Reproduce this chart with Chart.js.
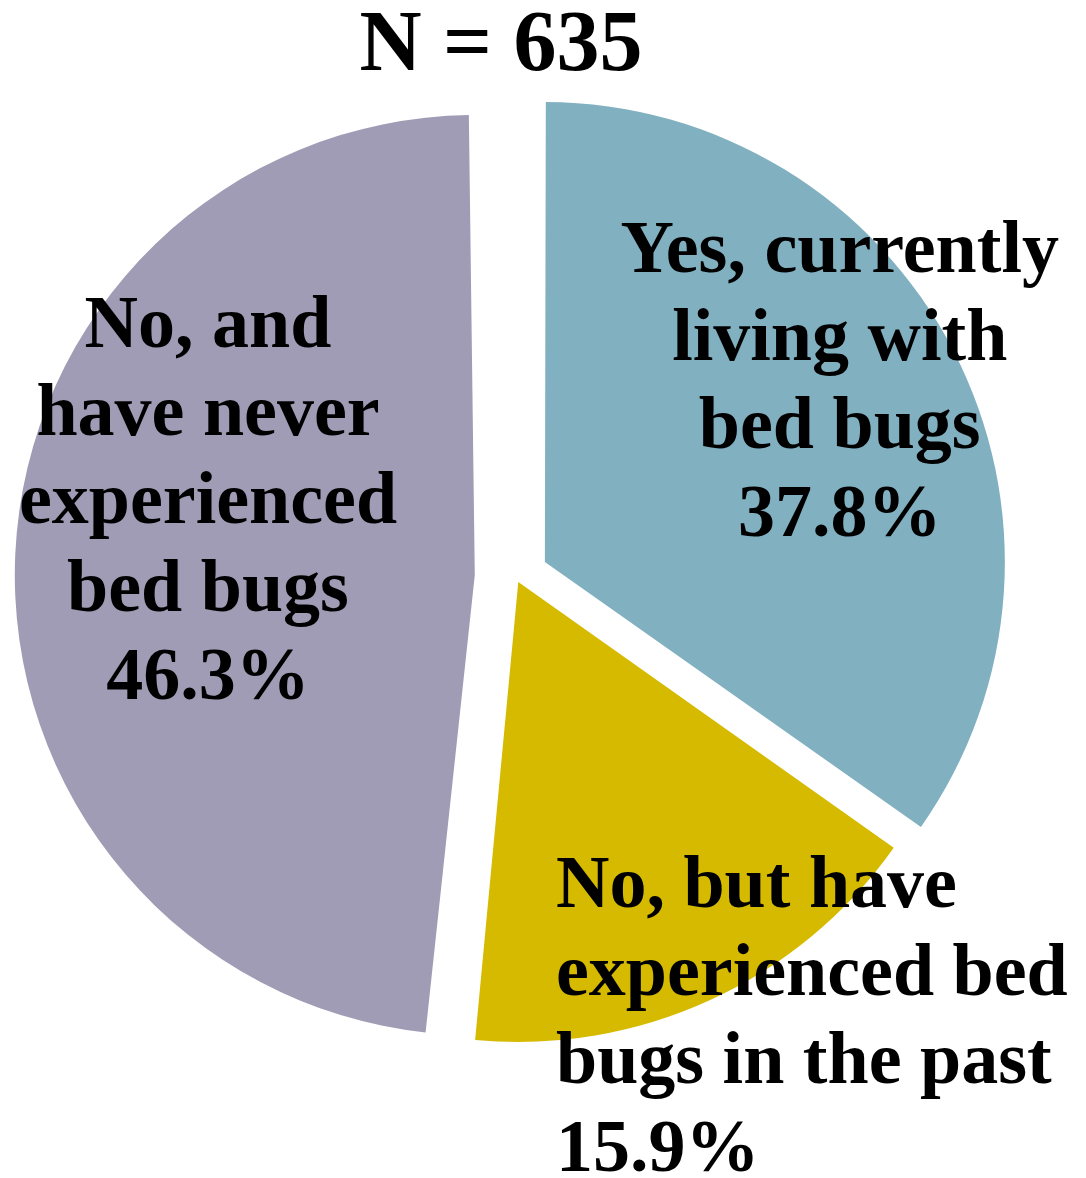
<!DOCTYPE html>
<html>
<head>
<meta charset="utf-8">
<script src="https://cdn.jsdelivr.net/npm/chart.js@4.4.1/dist/chart.umd.min.js"></script>
<style>
  html, body { margin: 0; padding: 0; background: #fff; }
  #wrap { width: 1086px; height: 1178px; }
</style>
</head>
<body>
<div id="wrap"><canvas id="pie"></canvas></div>
<script>
// slice sizes as drawn in the picture; the printed percentages stay in the labels
const categories = ['Yes, currently living with bed bugs', 'No, but have experienced bed bugs in the past', 'No, and have never experienced bed bugs'];
const shares = [34.8, 16.7, 48.5];
const percentLabels = ['37.8%', '15.9%', '46.3%'];
const labelLines = [
  ['Yes, currently', 'living with', 'bed bugs'],
  ['No, but have', 'experienced bed', 'bugs in the past'],
  ['No, and', 'have never', 'experienced', 'bed bugs'],
];
const sliceColors = ['#81B0C0', '#D5BA00', '#A09CB5'];
const explode = [130, 22, 165];
const titleText = 'N = 635';

// where each label's first baseline sits, relative to the slice tip (in radii)
const labelAnchor = [[0.641, -0.630], [0.082, 0.707], [-0.580, -0.496]];
const labelAlign = ['center', 'left', 'center'];

// chart.js grows the radius of exploded slices, undo that so all slices are equal
const fixRadius = {
  id: 'fixRadius',
  beforeDatasetsDraw(chart) {
    const meta = chart.getDatasetMeta(0);
    const base = meta.controller.outerRadius;
    meta.data.forEach((arc) => {
      const off = (arc.options.offset || 0) / 4;
      const circ = arc.endAngle - arc.startAngle;
      arc.outerRadius = base - off * (1 - Math.sin(Math.min(Math.PI, circ)));
    });
  }
};

const sliceText = {
  id: 'sliceText',
  afterDraw(chart) {
    const ctx = chart.ctx;
    const meta = chart.getDatasetMeta(0);
    const r = meta.controller.outerRadius;
    ctx.save();
    ctx.fillStyle = '#000';
    ctx.textBaseline = 'alphabetic';

    ctx.font = 'bold 86px "Liberation Serif", "Times New Roman", serif';
    ctx.textAlign = 'center';
    ctx.fillText(titleText, 501, 70);

    ctx.font = 'bold 74px "Liberation Serif", "Times New Roman", serif';
    meta.data.forEach((arc, i) => {
      const mid = (arc.startAngle + arc.endAngle) / 2;
      const off = (arc.options.offset || 0) / 4;
      const tipX = arc.x + Math.cos(mid) * off;
      const tipY = arc.y + Math.sin(mid) * off;
      const x = tipX + labelAnchor[i][0] * r;
      const y = tipY + labelAnchor[i][1] * r;
      const lines = labelLines[i].concat([percentLabels[i]]);
      ctx.textAlign = labelAlign[i];
      lines.forEach((line, j) => {
        ctx.fillText(line, x, y + j * 88);
      });
    });
    ctx.restore();
  }
};

new Chart(document.getElementById('pie'), {
  type: 'pie',
  data: {
    labels: categories,
    datasets: [{
      data: shares,
      backgroundColor: sliceColors,
      borderWidth: 0,
      offset: explode,
      radius: 460,
    }],
  },
  options: {
    responsive: true,
    maintainAspectRatio: false,
    animation: false,
    events: [],
    layout: { padding: { top: 86, bottom: 110, left: 0, right: 54 } },
    plugins: {
      legend: { display: false },
      tooltip: { enabled: false },
      title: { display: false },
    },
  },
  plugins: [fixRadius, sliceText],
});
</script>
</body>
</html>
